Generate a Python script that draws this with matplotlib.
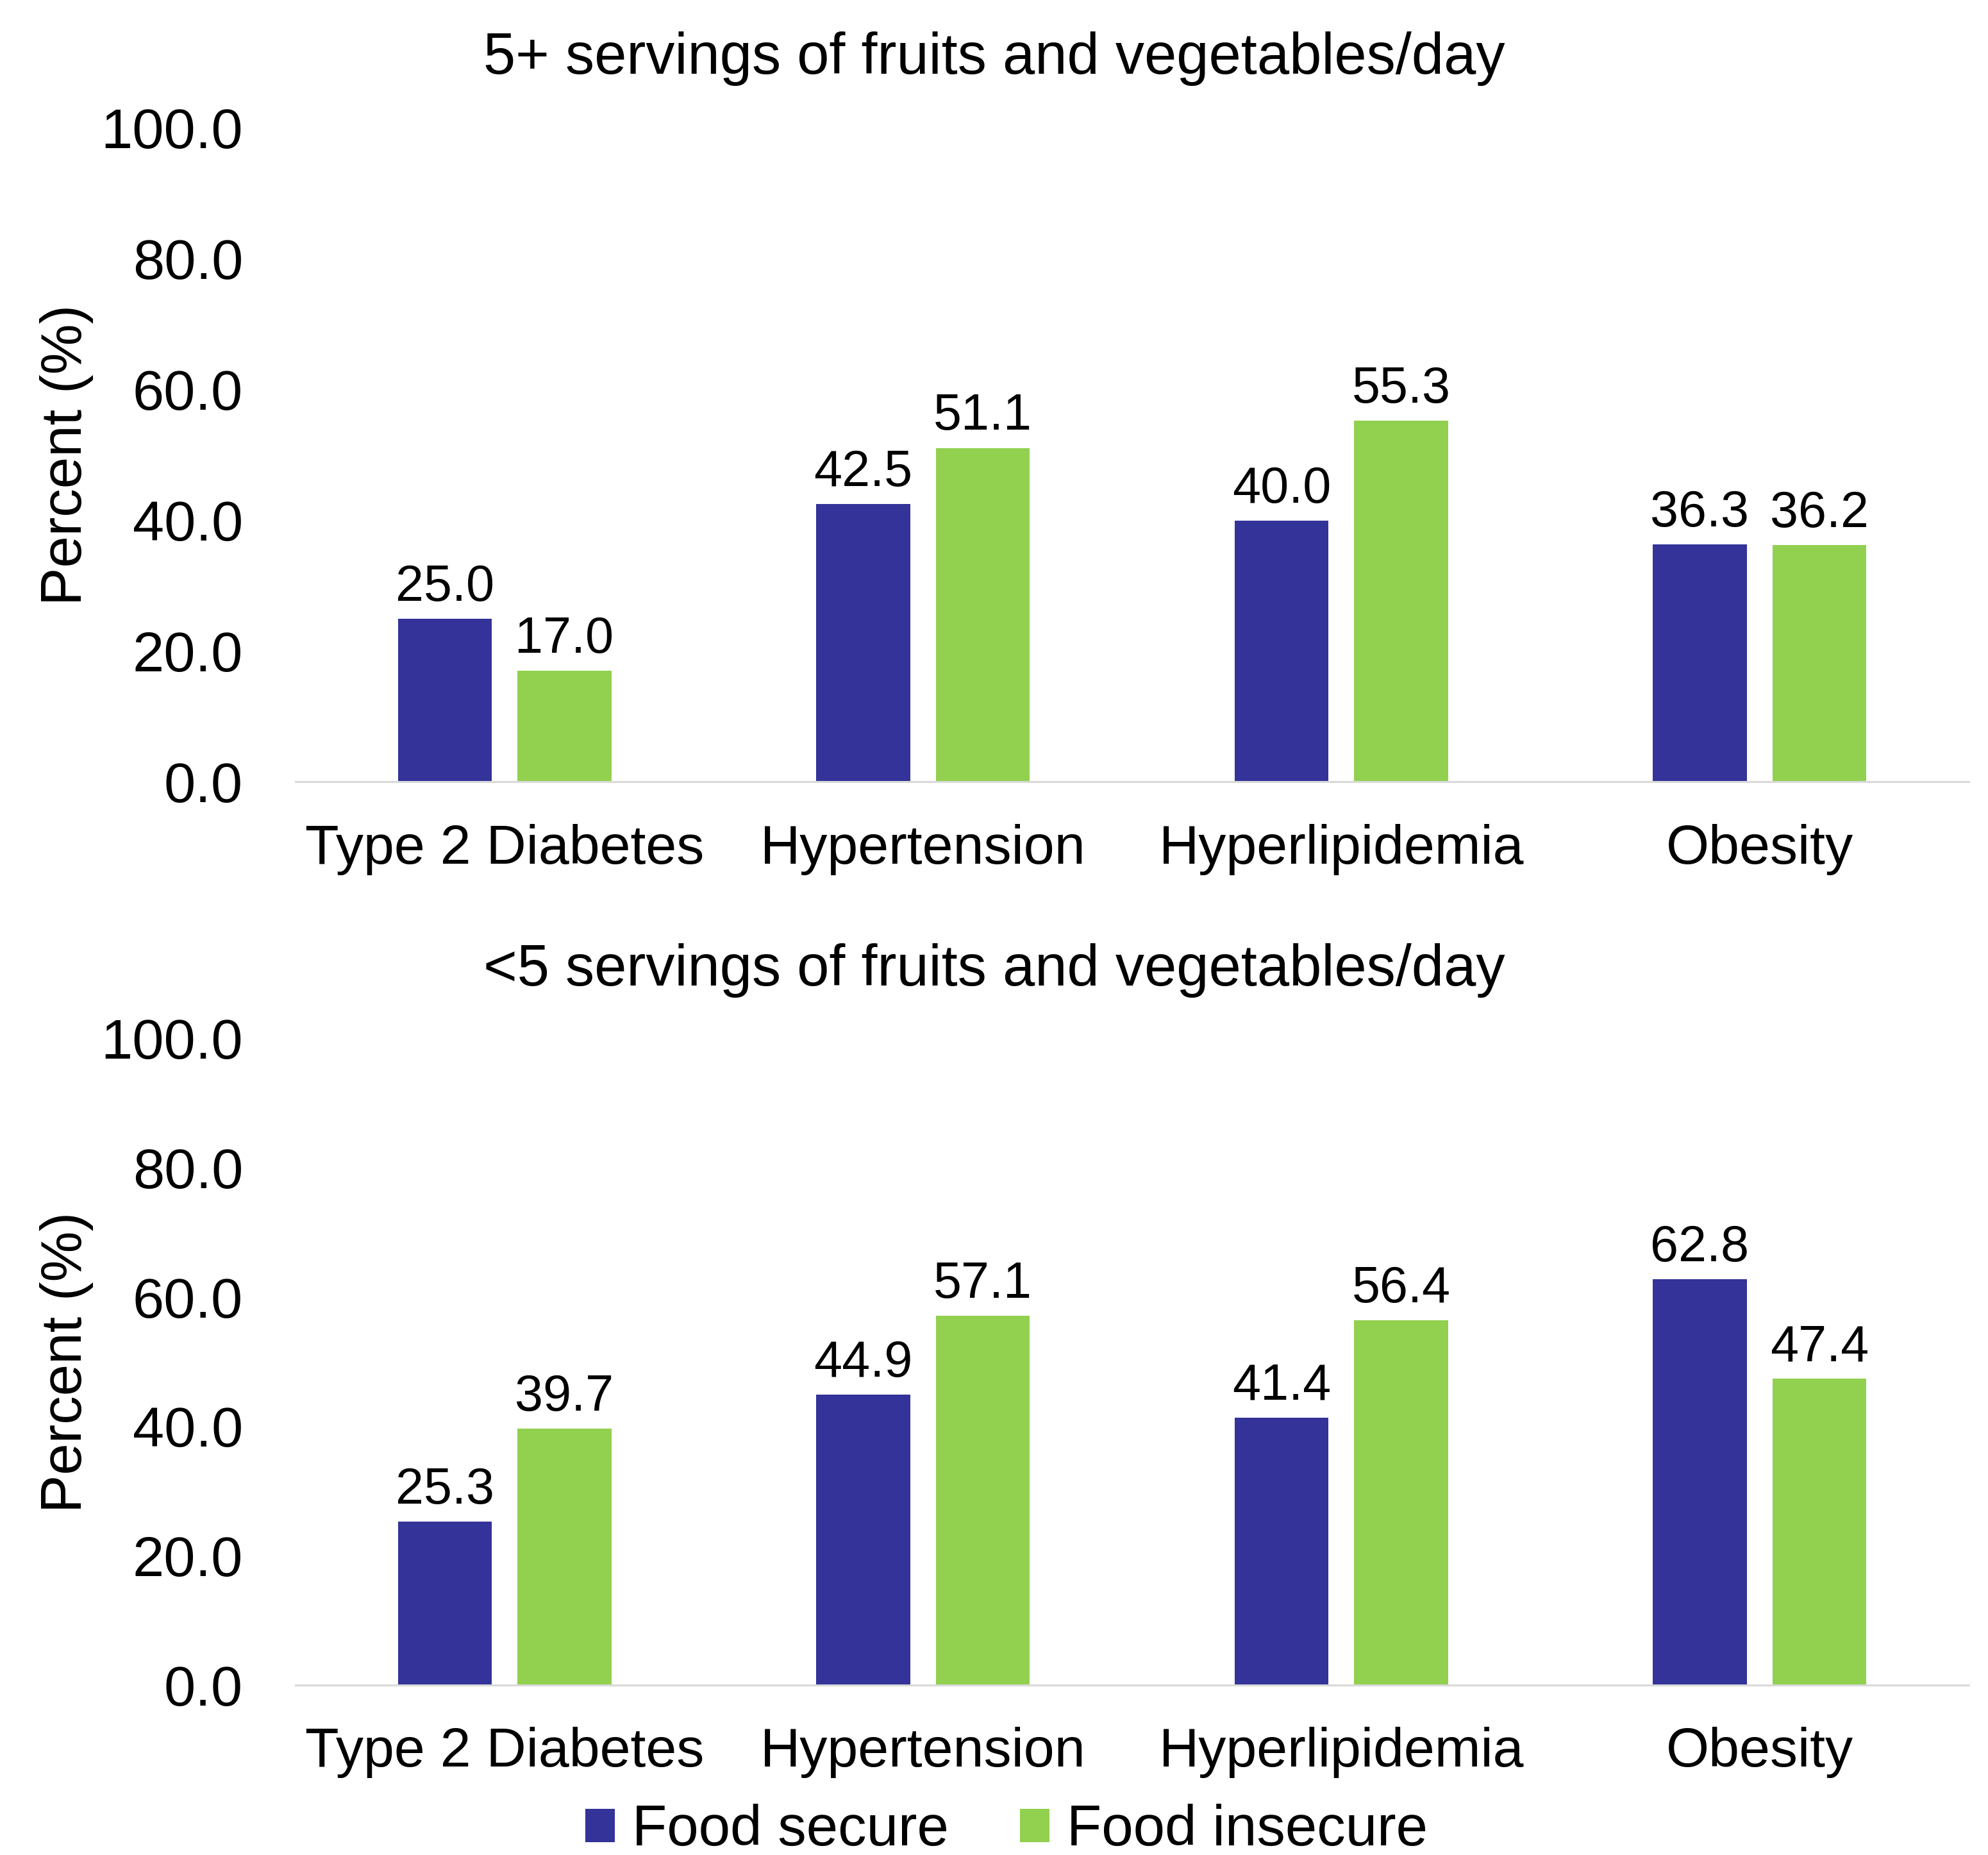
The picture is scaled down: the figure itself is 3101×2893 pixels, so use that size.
import numpy as np
import matplotlib
matplotlib.use("Agg")
import matplotlib.pyplot as plt
from matplotlib.patches import Patch
from matplotlib.ticker import FormatStrFormatter

plt.rcParams["font.family"] = ["Liberation Sans", "DejaVu Sans"]

# -------- dados --------
categorias = ["Type 2 Diabetes", "Hypertension", "Hyperlipidemia", "Obesity"]
series = ["Food secure", "Food insecure"]
titulos = ["5+ servings of fruits and vegetables/day",
           "<5 servings of fruits and vegetables/day"]

seguro_5mais = [25.0, 42.5, 40.0, 36.3]
inseguro_5mais = [17.0, 51.1, 55.3, 36.2]
seguro_5menos = [25.3, 44.9, 41.4, 62.8]
inseguro_5menos = [39.7, 57.1, 56.4, 47.4]
# ------------------------

AZUL = "#333399"
VERDE = "#92D050"
CINZA = "#d9d9d9"

fig = plt.figure(figsize=(15.505, 14.465), dpi=200)

# posições dos painéis (fração da figura)
ax_top = fig.add_axes([0.14866, 0.57847, 0.84166, 0.35240])
ax_bot = fig.add_axes([0.14866, 0.09160, 0.84166, 0.34843])

x = np.arange(len(categorias))
larg = 0.224
desl = 0.143

paineis = [
    (ax_top, seguro_5mais, inseguro_5mais, titulos[0], 0.9602),
    (ax_bot, seguro_5menos, inseguro_5menos, titulos[1], 0.4687),
]

for ax, seg, ins, tit, y_tit in paineis:
    b1 = ax.bar(x - desl, seg, width=larg, color=AZUL)
    b2 = ax.bar(x + desl, ins, width=larg, color=VERDE)
    ax.bar_label(b1, fmt="%.1f", padding=4, fontsize=28.5)
    ax.bar_label(b2, fmt="%.1f", padding=4, fontsize=28.5)

    ax.set_xlim(-0.5, len(categorias) - 0.5)
    ax.set_ylim(0, 100)
    ax.set_yticks(np.arange(0, 101, 20))
    ax.yaxis.set_major_formatter(FormatStrFormatter("%.1f"))
    ax.set_xticks(x)
    ax.set_xticklabels(categorias)

    ax.tick_params(axis="y", length=0, pad=29.5, labelsize=31.8)
    ax.tick_params(axis="x", length=0, pad=23.5, labelsize=31)

    for lado in ["top", "right", "left"]:
        ax.spines[lado].set_visible(False)
    ax.spines["bottom"].set_color(CINZA)
    ax.spines["bottom"].set_linewidth(1.1)

    ax.text(-0.1368, 0.5, "Percent (%)", transform=ax.transAxes,
            rotation=90, ha="center", va="center", fontsize=32)

    # título centrado na figura, não no eixo
    fig.text(0.5, y_tit, tit, ha="center", va="baseline", fontsize=32.5)

leg = [Patch(facecolor=AZUL, label=series[0]),
       Patch(facecolor=VERDE, label=series[1])]
fig.legend(handles=leg, loc="center", bbox_to_anchor=(0.5063, 0.013),
           ncol=2, frameon=False, fontsize=32,
           handlelength=0.52, handleheight=0.52, handletextpad=0.3,
           columnspacing=1.25, borderpad=0, borderaxespad=0)

plt.savefig("out.png", dpi=200)
